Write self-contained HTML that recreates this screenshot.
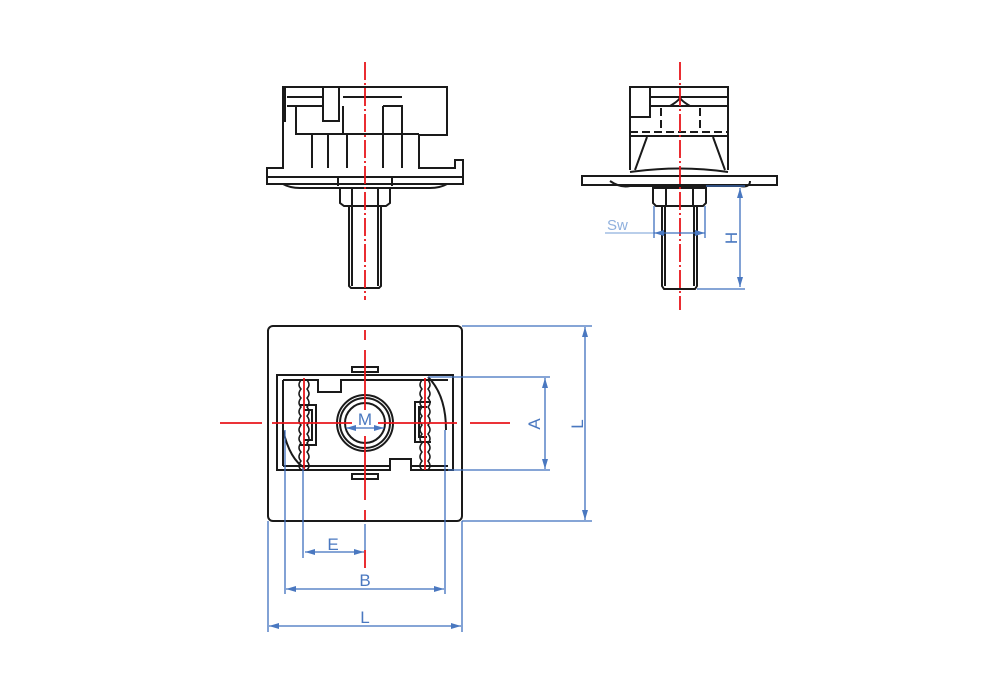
<!DOCTYPE html>
<html><head><meta charset="utf-8"><style>
html,body{margin:0;padding:0;background:#fff;}
svg{display:block;}
text{font-family:"Liberation Sans",sans-serif;fill:#4a78c0;}
</style></head><body>
<svg width="1000" height="700" viewBox="0 0 1000 700" xmlns="http://www.w3.org/2000/svg">
<defs>
<marker id="ar" viewBox="0 0 10 6" refX="10" refY="3" markerWidth="10" markerHeight="6" orient="auto-start-reverse" markerUnits="userSpaceOnUse"><path d="M0,0 L10,3 L0,6 z" fill="#4a78c0"/></marker>
</defs>
<g fill="none" stroke="#1a1a1a" stroke-width="2">
<!-- ===== Front-left view ===== -->
<path d="M283,87 H447 V135 H419 V168 H455 V160 H463 V184 H267 V168 H283 Z"/>
<line x1="285" y1="87" x2="285" y2="122"/>
<line x1="287" y1="97" x2="323" y2="97"/>
<line x1="343" y1="97" x2="402" y2="97"/>
<line x1="287" y1="106" x2="323" y2="106"/>
<path d="M323,87 V121 H339 V87"/>
<path d="M296,106 V134 H308"/>
<path d="M343,106 V134"/>
<path d="M383,106 V168"/>
<path d="M383,106 H402 V168"/>
<path d="M312,134 V168"/>
<path d="M328,134 V168"/>
<path d="M347,134 V168"/>
<line x1="296" y1="134" x2="419" y2="134"/>
<line x1="267" y1="177" x2="463" y2="177"/>
<line x1="338" y1="177" x2="338" y2="186"/>
<line x1="392" y1="177" x2="392" y2="186"/>
<path d="M283,184 Q290,188 300,188 H430 Q440,188 447,184"/>
<path d="M340,188 H390 V203 L386,206 H344 L340,203 Z"/>
<line x1="352" y1="188" x2="352" y2="206"/>
<line x1="378" y1="188" x2="378" y2="206"/>
<path d="M349,206 V286 L351,288 H379 L381,286 V206"/>
<line x1="352" y1="206" x2="352" y2="286"/>
<line x1="378" y1="206" x2="378" y2="286"/>
<!-- ===== Side view ===== -->
<path d="M630,87 H728 V170"/>
<path d="M630,87 V170"/>
<rect x="630" y="87" width="20" height="30"/>
<line x1="650" y1="97" x2="728" y2="97"/>
<line x1="650" y1="106" x2="728" y2="106"/>
<path d="M670,106 Q680,100 680,97 Q680,100 690,106"/>
<line x1="630" y1="132" x2="728" y2="132" stroke-dasharray="8,4"/>
<line x1="661" y1="108" x2="661" y2="132" stroke-dasharray="8,4"/>
<line x1="700" y1="108" x2="700" y2="132" stroke-dasharray="8,4"/>
<path d="M647,137 L635,170"/><path d="M713,137 L725,170"/>
<line x1="630" y1="136" x2="728" y2="136"/>
<path d="M582,176 H777 V185 H582 Z"/>
<path d="M630,172 Q680,165 728,172"/>
<path d="M610,181 Q620,188 630,186 H740 Q750,188 750,181"/>
<path d="M653,188 H706 V203 L703,206 H656 L653,203 Z"/>
<line x1="666" y1="188" x2="666" y2="206"/>
<line x1="693" y1="188" x2="693" y2="206"/>
<path d="M662,206 V286 L664,289 H695 L697,286 V206"/>
<line x1="665" y1="206" x2="665" y2="286"/>
<line x1="694" y1="206" x2="694" y2="286"/>
<!-- ===== Plan view ===== -->
<rect x="268" y="326" width="194" height="195" rx="5"/>
<path d="M277,375 H453 V470 H411 V459 H390 V470 H277 Z"/>
<path d="M283,380 H318 V392 H341 V380 H448"/>
<line x1="283" y1="380" x2="283" y2="466"/>
<line x1="283" y1="466" x2="390" y2="466"/>
<line x1="411" y1="466" x2="448" y2="466"/>
<path d="M428,377 Q446,395 446,430"/>
<path d="M283,430 Q290,460 305,468"/>
<rect x="352" y="367" width="26" height="5"/>
<rect x="352" y="474" width="26" height="5"/>
<circle cx="365" cy="423" r="28"/>
<circle cx="365" cy="423" r="25"/>
<circle cx="365" cy="423" r="20"/>
<path d="M300,405 H316 V445 H300"/><path d="M304,410 H312 V440 H304"/>
<path d="M431,402 H415 V442 H431"/><path d="M427,407 H419 V437 H427"/>
</g>
<!-- chains -->
<g fill="none" stroke="#1a1a1a" stroke-width="1.5">
<path d="M301,380 q-4,5 0,9 q-4,5 0,9 q-4,5 0,9 q-4,5 0,9 q-4,5 0,9 q-4,5 0,9 q-4,5 0,9 q-4,5 0,9 q-4,5 0,9 q-4,5 0,9"/>
<path d="M307,380 q4,5 0,9 q4,5 0,9 q4,5 0,9 q4,5 0,9 q4,5 0,9 q4,5 0,9 q4,5 0,9 q4,5 0,9 q4,5 0,9 q4,5 0,9"/>
<path d="M422,380 q-4,5 0,9 q-4,5 0,9 q-4,5 0,9 q-4,5 0,9 q-4,5 0,9 q-4,5 0,9 q-4,5 0,9 q-4,5 0,9 q-4,5 0,9 q-4,5 0,9"/>
<path d="M428,380 q4,5 0,9 q4,5 0,9 q4,5 0,9 q4,5 0,9 q4,5 0,9 q4,5 0,9 q4,5 0,9 q4,5 0,9 q4,5 0,9 q4,5 0,9"/>
</g>
<!-- red center lines -->
<g stroke="#e8161b" stroke-width="1.8" fill="none">
<line x1="365" y1="62" x2="365" y2="300" stroke-dasharray="18,3,2,3"/>
<line x1="680" y1="62" x2="680" y2="310" stroke-dasharray="18,3,2,3"/>
<line x1="365" y1="330" x2="365" y2="340"/>
<line x1="365" y1="350" x2="365" y2="410"/>
<line x1="365" y1="436" x2="365" y2="500"/>
<line x1="365" y1="510" x2="365" y2="520"/>
<line x1="365" y1="550" x2="365" y2="568"/>
<line x1="220" y1="423" x2="262" y2="423"/>
<line x1="272" y1="423" x2="352" y2="423"/>
<line x1="378" y1="423" x2="457" y2="423"/>
<line x1="470" y1="423" x2="510" y2="423"/>
<line x1="304" y1="378" x2="304" y2="470"/>
<line x1="425" y1="378" x2="425" y2="470"/>
</g>
<!-- dimensions -->
<g stroke="#3f6fbe" stroke-width="1.3" fill="none">
<line x1="605" y1="233" x2="654" y2="233" stroke="#8fb0dd"/>
<line x1="654" y1="233" x2="705" y2="233" marker-start="url(#ar)" marker-end="url(#ar)"/>
<line x1="654" y1="206" x2="654" y2="238"/>
<line x1="705" y1="206" x2="705" y2="238"/>
<line x1="706" y1="186" x2="745" y2="186"/>
<line x1="697" y1="289" x2="745" y2="289"/>
<line x1="740" y1="188" x2="740" y2="287" marker-start="url(#ar)" marker-end="url(#ar)"/>
<line x1="428" y1="377" x2="550" y2="377"/>
<line x1="448" y1="470" x2="550" y2="470"/>
<line x1="545" y1="378" x2="545" y2="469" marker-start="url(#ar)" marker-end="url(#ar)"/>
<line x1="462" y1="326" x2="592" y2="326"/>
<line x1="462" y1="521" x2="592" y2="521"/>
<line x1="585" y1="327" x2="585" y2="520" marker-start="url(#ar)" marker-end="url(#ar)"/>
<line x1="268" y1="521" x2="268" y2="632"/>
<line x1="462" y1="521" x2="462" y2="632"/>
<line x1="285" y1="430" x2="285" y2="594"/>
<line x1="445" y1="430" x2="445" y2="594"/>
<line x1="303" y1="468" x2="303" y2="558"/>
<line x1="365" y1="524" x2="365" y2="550"/>
<line x1="305" y1="552" x2="364" y2="552" marker-start="url(#ar)" marker-end="url(#ar)"/>
<line x1="286" y1="589" x2="444" y2="589" marker-start="url(#ar)" marker-end="url(#ar)"/>
<line x1="269" y1="626" x2="461" y2="626" marker-start="url(#ar)" marker-end="url(#ar)"/>
<line x1="346" y1="428" x2="384" y2="428" marker-start="url(#ar)" marker-end="url(#ar)"/>
</g>
<text x="607" y="230" font-size="15" style="fill:#8fb0dd">Sw</text>
<text transform="translate(737,238) rotate(-90)" font-size="17" text-anchor="middle">H</text>
<text transform="translate(540,424) rotate(-90)" font-size="17" text-anchor="middle">A</text>
<text transform="translate(583,424) rotate(-90)" font-size="17" text-anchor="middle">L</text>
<text x="333" y="550" font-size="17" text-anchor="middle">E</text>
<text x="365" y="586" font-size="17" text-anchor="middle">B</text>
<text x="365" y="623" font-size="17" text-anchor="middle">L</text>
<text x="365" y="425" font-size="17" text-anchor="middle">M</text>
</svg>
</body></html>
